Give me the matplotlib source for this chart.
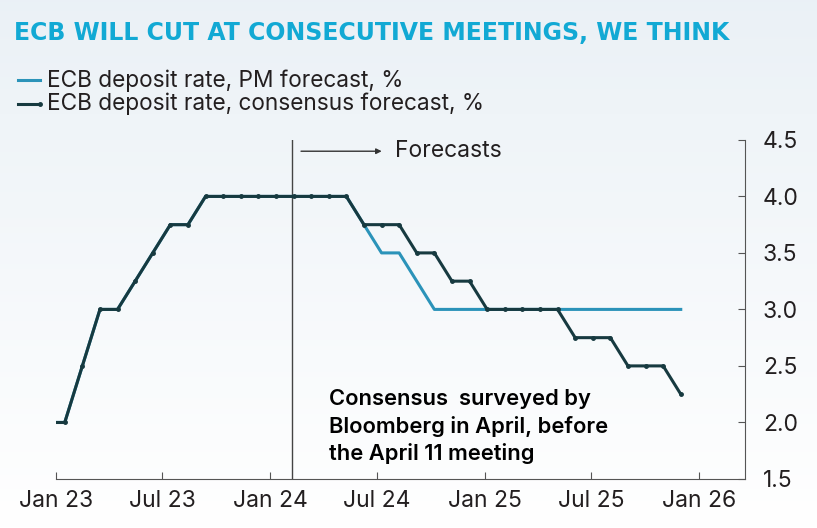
import numpy as np
import pandas as pd
import matplotlib.pyplot as plt

# данные: месячные точки, янв 2023 - дек 2025
dates = pd.DatetimeIndex([pd.Timestamp('2023-01-01')]).append(
    pd.date_range('2023-01-16', periods=36, freq='30D'))

consensus = [2.0,
             2.0, 2.5, 3.0, 3.0, 3.25, 3.5, 3.75, 3.75, 4.0, 4.0, 4.0, 4.0,
             4.0, 4.0, 4.0, 4.0, 4.0, 3.75, 3.75, 3.75, 3.5, 3.5, 3.25, 3.25,
             3.0, 3.0, 3.0, 3.0, 3.0, 2.75, 2.75, 2.75, 2.5, 2.5, 2.5, 2.25]

pm_forecast = [2.0,
               2.0, 2.5, 3.0, 3.0, 3.25, 3.5, 3.75, 3.75, 4.0, 4.0, 4.0, 4.0,
               4.0, 4.0, 4.0, 4.0, 4.0, 3.75, 3.5, 3.5, 3.25, 3.0, 3.0, 3.0,
               3.0, 3.0, 3.0, 3.0, 3.0, 3.0, 3.0, 3.0, 3.0, 3.0, 3.0, 3.0]

xticks = pd.to_datetime(['2023-01-01', '2023-07-01', '2024-01-01', '2024-07-01',
                         '2025-01-01', '2025-07-01', '2026-01-01'])
xlabels = ['Jan 23', 'Jul 23', 'Jan 24', 'Jul 24', 'Jan 25', 'Jul 25', 'Jan 26']
yticks = [1.5, 2.0, 2.5, 3.0, 3.5, 4.0, 4.5]

forecast_start = pd.Timestamp('2024-02-08')

teal = '#12a9d4'
blue = '#2b93b9'
dark = '#173a40'
txt = '#231f20'

plt.rcParams['font.family'] = ['Inter', 'DejaVu Sans']

fig = plt.figure(figsize=(8.17, 5.28), dpi=100)

# фон с градиентом
bg = fig.add_axes([0, 0, 1, 1], zorder=-5)
grad = np.linspace(0, 1, 256).reshape(-1, 1)
top = np.array([0.92, 0.945, 0.965])
bot = np.array([1.0, 1.0, 1.0])
img = top[None, None, :] * (1 - grad[..., None]) + bot[None, None, :] * grad[..., None]
bg.imshow(img, aspect='auto', extent=[0, 1, 0, 1])
bg.axis('off')

ax = fig.add_axes([0.0685, 0.093, 0.843, 0.642])
ax.patch.set_alpha(0)

ax.plot(dates, pm_forecast, color=blue, lw=2.2, zorder=2)
ax.plot(dates[1:], consensus[1:], color=dark, lw=2.2, marker='o', ms=2.5, zorder=3)
ax.plot(dates[:2], consensus[:2], color=dark, lw=2.2, zorder=3)

ax.set_xlim(pd.Timestamp('2023-01-01'), pd.Timestamp('2026-03-20'))
ax.set_ylim(1.5, 4.5)

ax.axvline(forecast_start, color='#444444', lw=1, zorder=1)
ax.annotate('', xy=(pd.Timestamp('2024-07-14'), 4.4), xytext=(pd.Timestamp('2024-02-18'), 4.4),
            arrowprops=dict(arrowstyle='-|>', color='#333333', lw=1, mutation_scale=8))
ax.text(pd.Timestamp('2024-08-01'), 4.4, 'Forecasts', fontsize=16.5, color=txt, va='center')

ax.text(pd.Timestamp('2024-04-10'), 1.96, 'Consensus  surveyed by\nBloomberg in April, before\nthe April 11 meeting',
        fontsize=15.8, fontweight='semibold', color='black', va='center', linespacing=1.38)

ax.spines['left'].set_visible(False)
ax.spines['top'].set_visible(False)
ax.spines['right'].set_color('#555555')
ax.spines['bottom'].set_color('#555555')
ax.yaxis.tick_right()
ax.set_yticks(yticks)
ax.set_yticklabels([f'{v:.1f}' for v in yticks])
ax.set_xticks(xticks)
ax.set_xticklabels(xlabels)
ax.tick_params(axis='y', direction='in', length=5, color='#555555', labelsize=16.5, labelcolor=txt, pad=13)
ax.tick_params(axis='x', direction='in', length=5, color='#555555', labelsize=16.5, labelcolor=txt, pad=8)

fig.text(0.017, 0.937, 'ECB WILL CUT AT CONSECUTIVE MEETINGS, WE THINK', fontsize=17,
         fontweight='bold', color=teal, va='center', family='DejaVu Sans')

# легенда
fig.add_artist(plt.Line2D([0.022, 0.049], [0.848, 0.848], color=blue, lw=2.2))
fig.add_artist(plt.Line2D([0.022, 0.049], [0.803, 0.803], color=dark, lw=2.2, marker='o', ms=2.5, markevery=[1]))
fig.text(0.058, 0.848, 'ECB deposit rate, PM forecast, %', fontsize=16.3, color=txt, va='center')
fig.text(0.058, 0.803, 'ECB deposit rate, consensus forecast, %', fontsize=16.3, color=txt, va='center')

fig.savefig('out.png', dpi=100)
